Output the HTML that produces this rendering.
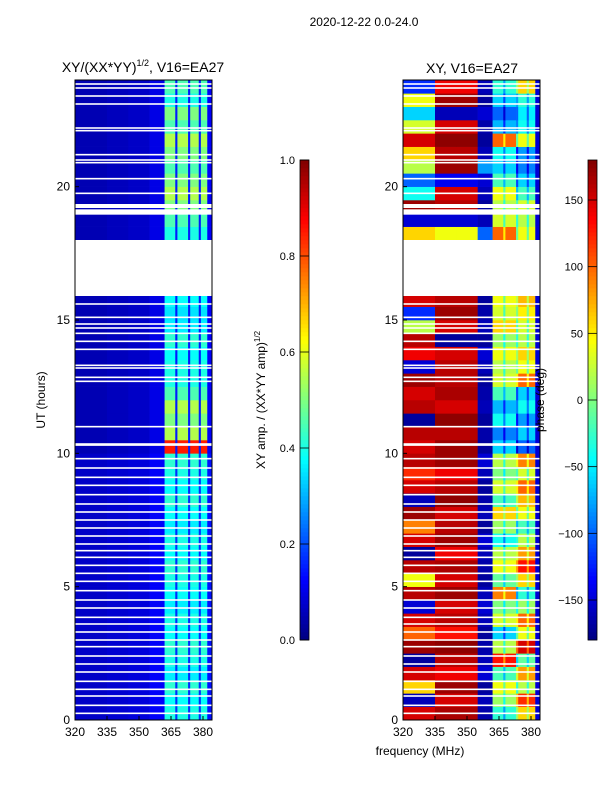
<!DOCTYPE html>
<html><head><meta charset="utf-8"><style>
html,body{margin:0;padding:0;background:#fff;}
svg text{font-family:"Liberation Sans","DejaVu Sans",sans-serif;fill:#000;}
</style></head><body>
<svg id="fig" width="600" height="800" viewBox="0 0 600 800" xmlns="http://www.w3.org/2000/svg">
<text x="364" y="26" font-size="12" text-anchor="middle">2020-12-22 0.0-24.0</text>
<text x="143" y="72" font-size="14" text-anchor="middle">XY/(XX*YY)<tspan font-size="9" dy="-6">1/2</tspan><tspan dy="6">, V16=EA27</tspan></text>
<text x="472" y="73" font-size="14" text-anchor="middle">XY, V16=EA27</text>
<text transform="translate(45,400) rotate(-90)" font-size="12" text-anchor="middle">UT (hours)</text>
<text x="420" y="755" font-size="12" text-anchor="middle">frequency (MHz)</text>
<text transform="translate(265,400) rotate(-90)" font-size="12" text-anchor="middle">XY amp. / (XX*YY amp)<tspan font-size="8" dy="-5">1/2</tspan></text>
<g id="left"></g>
<g id="right"></g>
<g id="axes"></g>
<text transform="translate(544,400) rotate(-90)" font-size="12" text-anchor="middle">phase (deg)</text>
</svg>
<script>
// ---- data ----
const bandEdges = [320,335,345,355,362,367,368,373,374,378,379,382,384];
const ampBase = [0.05,0.06,0.07,0.1,1,0.15,1,0.15,1,0.15,1,0.12];
const brightAmp = [0.4,0.38,0.42,0.36,0.4,0.42,0.38,0.4,0.36,0.38,0.4,0.42,0.38,0.4,0.36,0.38,0.42,0.38,0.4,0.42,
 0.85,0.55,0.5,0.55,0.45,0.4, 0.4,0.38,0.42,0.36,0.35,0.38, 0,0,0,0, 0.4,0.45, 0.5,0.55,0.5,0.45,0.5,0.55,0.45,0.5,0.4,0.45];
const phaseA = [150,-160,60,150,-170,170,100,150,-150,160,40,160,-170,150,90,170,-160,150,120,160,
 150,160,-170,160,150,170, -150,140,160,20,-120,150, 0,0,0,0, 60,-150, 170,-40,-100,20,60,150,30,-60,40,-120];
const phaseB = [165,150,170,140,160,175,130,160,150,170,150,165,140,170,160,150,175,160,140,170,
 170,160,175,150,165,160, 160,150,-170,150,170,160, 0,0,0,0, 40,-150, 160,150,-140,170,160,175,150,-160,170,140];
const phaseN = [-165,-160,-170,-150,-160,-165,-170,-160,-150,-160,-170,-165,-160,-150,-170,-160,-165,-170,-160,-150,
 -170,-165,-170,-160,-165,-170, -160,-150,-170,-160,-165,-170, 0,0,0,0, -100,-160, -170,-160,-150,-80,-160,-170,-165,-150,-170,-160];
const phaseC = [-30,10,40,-20,130,20,-60,30,0,90,-10,40,20,-40,10,60,-20,30,0,20,
 -60,-90,-40,-70,-20,30, 20,40,10,60,30,40, 0,0,0,0, 100,30, 20,40,-20,-60,-40,100,-70,-100,-60,-30];
const phaseD = [60,120,20,80,-10,150,40,100,10,-30,60,130,80,20,-20,40,70,100,30,90,
 -100,-60,-80,-40,-60,100, 40,60,20,30,50,70, 0,0,0,0, 40,20, 30,-20,-60,-90,-80,40,-40,-50,-30,60];
const gapStart = [15.9,18.95,19.2,10.28];
const gapEnd = [18.0,19.15,19.35,10.38];
const whiteLines = [0.25,0.55,0.9,1.15,1.45,1.8,2.1,2.4,2.75,3.0,3.3,3.6,3.85,4.2,4.5,4.85,5.2,5.5,5.8,6.1,6.35,6.6,6.9,7.2,7.5,7.8,8.1,8.45,8.8,9.1,9.45,9.8,
 11.0,12.7,12.85,13.2,13.3,13.9,14.2,14.5,14.7,14.85,15.1,15.6,19.75,20.3,20.9,21.0,21.2,22.1,22.2,23.1,23.4,23.7,23.85];
const xTicks = [320,335,350,365,380];
const yTicks = [0,5,10,15,20];
const ampTicks = [0,0.2,0.4,0.6,0.8,1.0];
const phaseTicks = [-150,-100,-50,0,50,100,150];

// ---- helpers ----
const NS="http://www.w3.org/2000/svg";
function jet(v){v=Math.max(0,Math.min(1,v));
 const r=Math.max(0,Math.min(1,1.5-Math.abs(4*v-3))),g=Math.max(0,Math.min(1,1.5-Math.abs(4*v-2))),b=Math.max(0,Math.min(1,1.5-Math.abs(4*v-1)));
 return `rgb(${Math.round(r*255)},${Math.round(g*255)},${Math.round(b*255)})`;}
function mk(tag,attrs,parent){const e=document.createElementNS(NS,tag);for(const k in attrs)e.setAttribute(k,attrs[k]);parent.appendChild(e);return e;}
const Y0=720,Y1=80;
function yS(t){return Y0-(t/24)*(Y0-Y1);}
function xS(f,x0){return x0+(f-320)*(128/60);}
const panels=[{x0:75,g:document.getElementById('left'),kind:'amp'},{x0:403,g:document.getElementById('right'),kind:'phase'}];
const axes=document.getElementById('axes');
const nRows=brightAmp.length, dt=24/nRows;
panels.forEach(p=>{
 for(let r=0;r<nRows;r++){
  if(brightAmp[r]===0)continue;
  for(let b=0;b<bandEdges.length-1;b++){
   let col;
   if(p.kind==='amp'){
     const v=ampBase[b]===1?brightAmp[r]:ampBase[b]+(r<20?0.02:0);
     col=jet(v);
   } else {
     let ph;
     if(b===0)ph=phaseA[r];else if(b<=2)ph=phaseB[r];else if(b===3)ph=phaseN[r];
     else if(b<=6)ph=phaseC[r];else if(b<=10)ph=phaseD[r];else ph=-150;
     if(b===5||b===7||b===9)ph=ph-50;
     col=jet((ph+180)/360);
   }
   const x1=xS(bandEdges[b],p.x0),x2=xS(bandEdges[b+1],p.x0);
   const c=mk('rect',{x:x1,y:yS((r+1)*dt),width:x2-x1+0.3,height:(Y0-Y1)/nRows+0.3,fill:col},p.g);
   
   
  }
 }
 for(let i=0;i<gapStart.length;i++){
  const w=mk('rect',{x:p.x0,y:yS(gapEnd[i]),width:137,height:yS(gapStart[i])-yS(gapEnd[i]),fill:'#fff'},p.g);
  
  
 }
 whiteLines.forEach(t=>{
  const l=mk('rect',{x:p.x0,y:yS(t)-0.8,width:137,height:1.6,fill:'#fff'},p.g);
  
  
 });
 const fr=mk('rect',{x:p.x0,y:Y1,width:137,height:Y0-Y1,fill:'none',stroke:'#000','stroke-width':1},axes);
 
 
 xTicks.forEach(f=>{
  const x=xS(f,p.x0);
  mk('line',{x1:x,x2:x,y1:Y0,y2:Y0-4,stroke:'#000'},axes);
  const t=mk('text',{x:x,y:Y0+16,'font-size':12,'text-anchor':'middle'},axes);t.textContent=f;
  
  
 });
 yTicks.forEach(v=>{
  const y=yS(v);
  mk('line',{x1:p.x0,x2:p.x0+4,y1:y,y2:y,stroke:'#000'},axes);
  const t=mk('text',{x:p.x0-5,y:y+4,'font-size':12,'text-anchor':'end'},axes);t.textContent=v;
  
  
 });
});
// colorbars
function colorbar(x,ticks,lo,hi,name){
 const g=mk('g',{},axes);
 
 
 const n=120;
 for(let i=0;i<n;i++){mk('rect',{x:x,y:640-(i+1)*4,width:9,height:4.3,fill:jet((i+0.5)/n)},g);}
 mk('rect',{x:x,y:160,width:9,height:480,fill:'none',stroke:'#000','stroke-width':0.8},g);
 ticks.forEach(v=>{
  const y=640-(v-lo)/(hi-lo)*480;
  mk('line',{x1:x,x2:x+9,y1:y,y2:y,stroke:'#000','stroke-width':0.8},g);
  const t=mk('text',{x:x-5,y:y+4,'font-size':11,'text-anchor':'end'},g);
  t.textContent=(name==='amp-colorbar'?v.toFixed(1):(v<0?'\u2212'+(-v):v));
  
  
 });
}
colorbar(300,ampTicks,0,1,'amp-colorbar');
colorbar(588,phaseTicks,-180,180,'phase-colorbar');
</script>
</body></html>
